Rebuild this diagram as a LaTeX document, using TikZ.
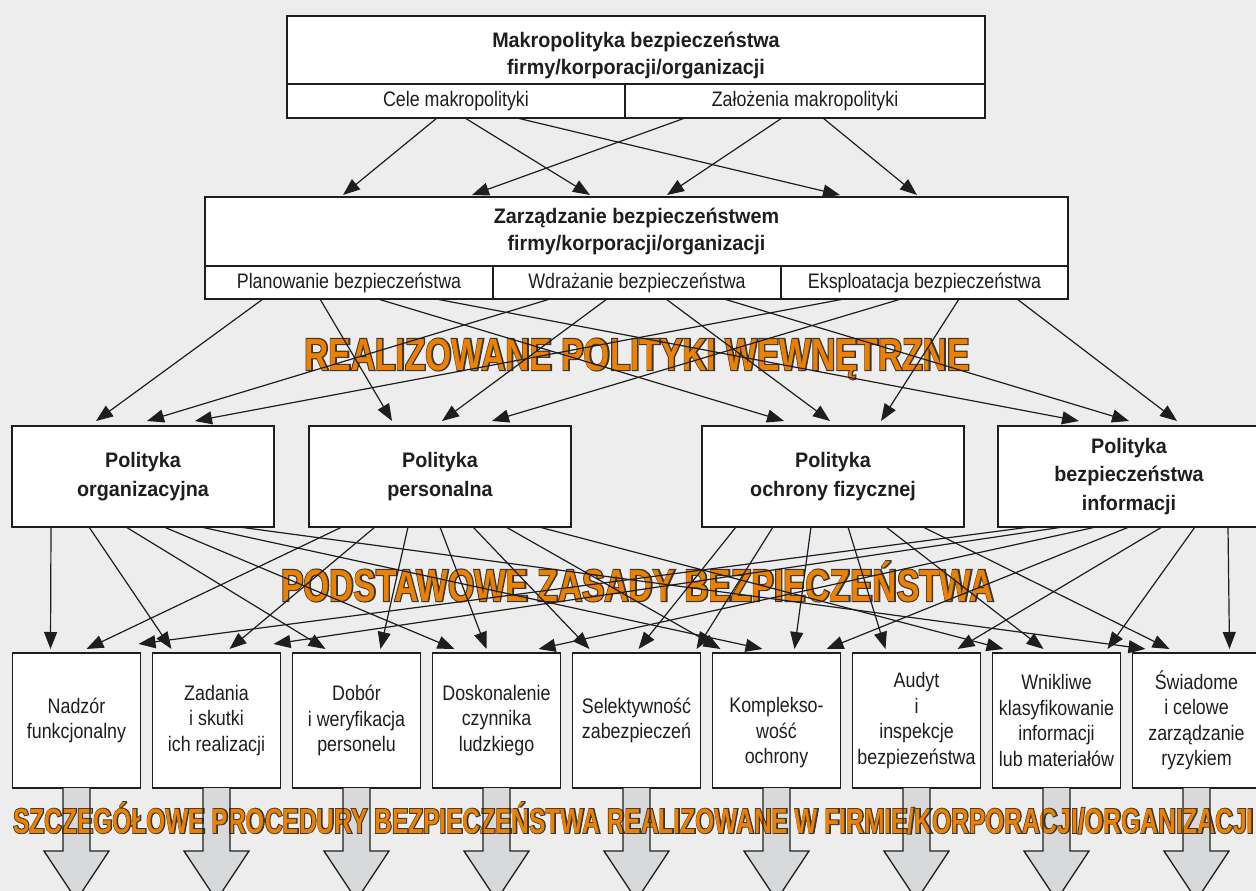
\documentclass[tikz,border=0pt]{standalone}
\usepackage{fontspec}
\setmainfont{Liberation Sans}[FakeStretch=0.85]
\newfontfamily\headfont{Liberation Sans}[FakeStretch=0.94]
% banner faces: a plain face for the orange letters and an emboldened twin for their dark rim
\newfontfamily\bannerfont{Liberation Sans}[UprightFont={* Bold},FakeStretch=0.745]
\newfontfamily\bannerrim{Liberation Sans}[UprightFont={* Bold},FakeStretch=0.745,FakeBold=5]
\newfontfamily\footfont{Liberation Sans}[UprightFont={* Bold},FakeStretch=0.70]
\newfontfamily\footrim{Liberation Sans}[UprightFont={* Bold},FakeStretch=0.70,FakeBold=5]
\usetikzlibrary{arrows.meta}

\definecolor{paper}{HTML}{ECEDEC}
\definecolor{ink}{HTML}{1E1E1E}
\definecolor{bannerorange}{HTML}{EE8000}
\definecolor{shaftgray}{HTML}{D8D9DB}

% dark fill and dark stroke for the rim layer
\newcommand\rimtext[1]{\special{pdf:bcolor [0.22 0.22 0.22] [0.22 0.22 0.22]}#1\special{pdf:ecolor}}

\begin{document}
\begin{tikzpicture}[x=1pt,y=-1pt,
  cell/.style={draw=ink,line width=1.7pt,fill=white,inner sep=0pt,outer sep=0pt,
    align=center,text=ink,font=\fontsize{21}{25.5}\selectfont},
  polcell/.style={cell,font=\headfont\bfseries\fontsize{21}{28.5}\selectfont},
  headtext/.style={inner sep=0pt,align=center,text=ink,
    font=\headfont\bfseries\fontsize{21}{27}\selectfont},
  bodytext/.style={inner sep=0pt,align=center,text=ink,font=\fontsize{21}{25.5}\selectfont},
  conn/.style={draw=ink,line width=1.2pt,-{Triangle[length=17pt,width=13pt]}},
  banner/.style={inner sep=0pt,anchor=base,text=bannerorange,
    font=\bannerfont\fontsize{45}{45}\selectfont},
  bannerback/.style={inner sep=0pt,anchor=base,
    font=\bannerrim\fontsize{45}{45}\selectfont},
  footbanner/.style={inner sep=0pt,anchor=base west,text=bannerorange,
    font=\footfont\fontsize{35}{35}\selectfont},
  footbannerback/.style={inner sep=0pt,anchor=base west,
    font=\footrim\fontsize{35}{35}\selectfont},
  shaftfill/.style={fill=shaftgray},
  shaftedge/.style={draw=ink,line width=1.3pt,line join=miter}
]
\useasboundingbox (0,0) rectangle (1256,891);
\clip (0,0) rectangle (1256,891);
\fill[paper] (0,0) rectangle (1256,891);

% --- level 1: macro policy
\node[cell,minimum width=698pt,minimum height=68pt] (macroT) at (636,50) {};
\node[headtext] (macroL) at ([yshift=-5.5pt]macroT.center)
  {Makropolityka bezpieczeństwa\\firmy/korporacji/organizacji};
\node[cell,minimum width=338pt,minimum height=34pt] (macroA) at (456,101) {Cele makropolityki};
\node[cell,minimum width=360pt,minimum height=34pt] (macroB) at (805,101) {Założenia makropolityki};

% --- level 2: security management
\node[cell,minimum width=863pt,minimum height=69pt] (zarzT) at (636.5,231.5) {};
\node[headtext] (zarzL) at (zarzT.center)
  {Zarządzanie bezpieczeństwem\\firmy/korporacji/organizacji};
\node[cell,minimum width=288pt,minimum height=33pt] (zarzA) at (349,282.5) {Planowanie bezpieczeństwa};
\node[cell,minimum width=288pt,minimum height=33pt] (zarzB) at (637,282.5) {Wdrażanie bezpieczeństwa};
\node[cell,minimum width=287pt,minimum height=33pt] (zarzC) at (924.5,282.5) {Eksploatacja bezpieczeństwa};

% --- level 3: internal policies
\node[polcell,minimum width=262pt,minimum height=101pt] (pol1) at (143,476.5) {Polityka\\organizacyjna};
\node[polcell,minimum width=262pt,minimum height=101pt] (pol2) at (440,476.5) {Polityka\\personalna};
\node[polcell,minimum width=262pt,minimum height=101pt] (pol3) at (833,476.5) {Polityka\\ochrony fizycznej};
\node[polcell,minimum width=262pt,minimum height=101pt] (pol4) at (1129,476.5) {Polityka\\bezpieczeństwa\\informacji};

% --- level 4: basic security principles
\begin{scope}[every node/.style={cell,minimum width=128pt,minimum height=135pt}]
\node (b1) at (76.5,720.5) {Nadzór\\funkcjonalny};
\node (b2) at (216.5,720.5) {Zadania\\i skutki\\ich realizacji};
\node (b3) at (356.5,720.5) {Dobór\\i weryfikacja\\personelu};
\node (b4) at (496.5,720.5) {Doskonalenie\\czynnika\\ludzkiego};
\node (b5) at (636.5,720.5) {Selektywność\\zabezpieczeń};
\node (b6) at (776.5,720.5) {};
\node (b7) at (916.5,720.5) {Audyt\\i\\inspekcje\\bezpiezeństwa};
\node (b8) at (1056.5,720.5) {Wnikliwe\\klasyfikowanie\\informacji\\lub materiałów};
\node (b9) at (1196.5,720.5) {Świadome\\i celowe\\zarządzanie\\ryzykiem};
\end{scope}
\node[bodytext] (b6L) at ([yshift=-12.5pt]b6.center) {Komplekso-\\wość\\ochrony};

% --- wide grey arrows under the principles (fill first)
\foreach \i in {1,...,9}
  \fill[shaftfill] ([xshift=-13.5pt]b\i.south) -- ++(0,63) -- ++(-19,0) -- ++(32.5,49)
    -- ++(32.5,-49) -- ++(-19,0) -- ++(0,-63) -- cycle;

% --- orange banners: dark rim underneath, orange letters on top
\node[bannerback] (bannerArim) at (637,370) {\rimtext{REALIZOWANE POLITYKI WEWNĘTRZNE}};
\node[banner] (bannerA) at (bannerArim.base) {REALIZOWANE POLITYKI WEWNĘTRZNE};
\node[bannerback] (bannerBrim) at (637.5,601) {\rimtext{PODSTAWOWE ZASADY BEZPIECZEŃSTWA}};
\node[banner] (bannerB) at (bannerBrim.base) {PODSTAWOWE ZASADY BEZPIECZEŃSTWA};
\node[footbannerback] (bannerCrim) at (13,833)
  {\rimtext{SZCZEGÓŁOWE PROCEDURY BEZPIECZEŃSTWA REALIZOWANE W FIRMIE/KORPORACJI/ORGANIZACJI}};
\node[footbanner] (bannerC) at (bannerCrim.base west)
  {SZCZEGÓŁOWE PROCEDURY BEZPIECZEŃSTWA REALIZOWANE W FIRMIE/KORPORACJI/ORGANIZACJI};

% --- outlines of the grey arrows, above the banner
\foreach \i in {1,...,9}
  \draw[shaftedge] ([xshift=-13.5pt]b\i.south) -- ++(0,63) -- ++(-19,0) -- ++(32.5,49)
    -- ++(32.5,-49) -- ++(-19,0) -- ++(0,-63);

% --- connectors: macro policy -> management
\foreach \s/\a/\b in {macroA/150/138, macroA/178/385, macroA/230/635,
                      macroB/60/267, macroB/157/462, macroB/198/712}
  \draw[conn] ([xshift=\a pt]\s.south west) -- ([xshift=\b pt,yshift=2pt]zarzT.north west);

% --- connectors: management -> internal policies
\foreach \s/\a/\t/\b in {zarzA/58/pol1/84, zarzA/115/pol2/83, zarzA/173/pol3/82, zarzA/231/pol4/81,
                         zarzB/57/pol1/135, zarzB/114/pol2/133, zarzB/173/pol3/128, zarzB/231/pol4/131,
                         zarzC/63/pol1/183, zarzC/120/pol2/183, zarzC/178/pol3/179, zarzC/236/pol4/179}
  \draw[conn] ([xshift=\a pt]\s.south west) -- ([xshift=\b pt,yshift=5pt]\t.north west);

% --- connectors: internal policies -> principles
\foreach \s/\a/\t/\b/\h in {
    pol1/39/b1/38/4, pol1/77/b2/19/4, pol1/114/b3/33/4, pol1/152/b4/22/4,
    pol1/189/b6/50/4, pol1/227/b9/13/4,
    pol2/33/b1/74/4, pol2/66/b2/77/4, pol2/99/b3/88/4, pol2/131/b4/54/4,
    pol2/164/b5/17/4, pol2/197/b6/8/4, pol2/230/b8/11/4,
    pol3/34/b5/66/4, pol3/71/b5/124/4, pol3/109/b6/82/4, pol3/146/b7/33/4,
    pol3/184/b8/51/4, pol3/221/b9/37/4,
    pol4/32/b1/126/9, pol4/65/b2/121/9, pol4/98/b4/106/4, pol4/131/b6/114/4,
    pol4/164/b7/105/4, pol4/197/b8/115/4, pol4/230/b9/97/4}
  \draw[conn] ([xshift=\a pt]\s.south west) -- ([xshift=\b pt,yshift=\h pt]\t.north west);
\end{tikzpicture}
\end{document}
